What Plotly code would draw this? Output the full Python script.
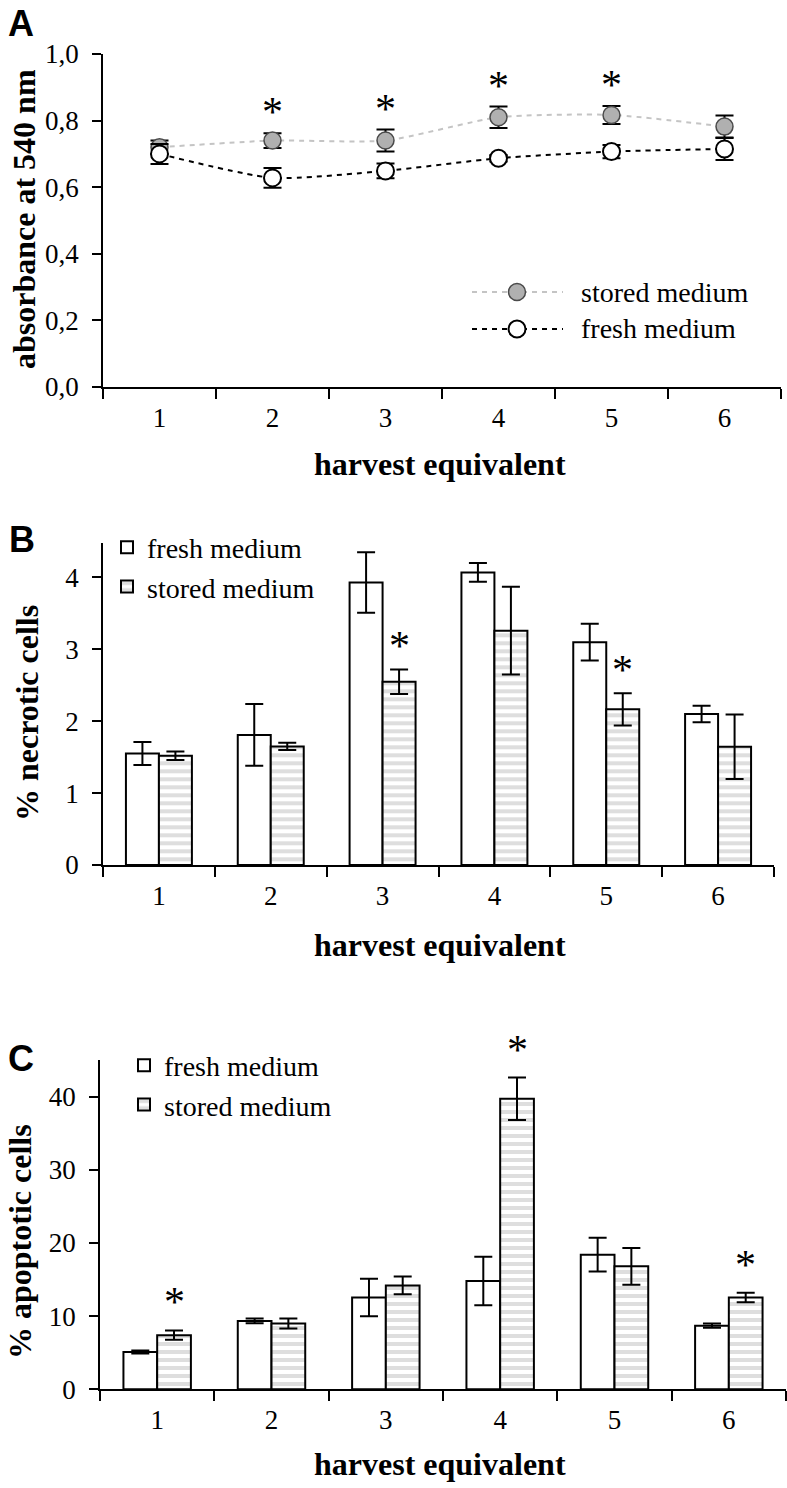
import plotly.graph_objects as go

# ---------------- data ----------------
categories = ["1", "2", "3", "4", "5", "6"]

# Panel A: absorbance at 540 nm
absorb_stored = [0.72, 0.74, 0.74, 0.81, 0.817, 0.782]
absorb_stored_err = [0.02, 0.022, 0.033, 0.032, 0.027, 0.033]
absorb_fresh = [0.70, 0.628, 0.649, 0.687, 0.707, 0.715]
absorb_fresh_err = [0.03, 0.03, 0.022, 0.01, 0.02, 0.033]
absorb_sig = [False, True, True, True, True, False]

# Panel B: % necrotic cells
necrotic_fresh = [1.55, 1.81, 3.93, 4.07, 3.10, 2.10]
necrotic_fresh_err = [0.16, 0.43, 0.42, 0.13, 0.255, 0.115]
necrotic_stored = [1.52, 1.65, 2.55, 3.26, 2.165, 1.645]
necrotic_stored_err = [0.06, 0.05, 0.17, 0.61, 0.225, 0.45]
necrotic_sig = [False, False, True, False, True, False]

# Panel C: % apoptotic cells
apoptotic_fresh = [5.1, 9.35, 12.55, 14.8, 18.4, 8.7]
apoptotic_fresh_err = [0.2, 0.33, 2.56, 3.3, 2.3, 0.3]
apoptotic_stored = [7.4, 9.0, 14.2, 39.7, 16.8, 12.55]
apoptotic_stored_err = [0.64, 0.68, 1.2, 2.9, 2.5, 0.64]
apoptotic_sig = [True, False, False, True, False, True]

# ---------------- layout helpers ----------------
W, H = 787, 1488
SERIF = "Liberation Serif"
SANS = "Liberation Sans"
BARGAP = 0.41


def px_x(p):
    return p / W


def px_y(p):
    return 1 - p / H


tick_font = dict(family=SERIF, size=27, color="black")


def xstyle(x0, x1, anchor):
    return dict(
        domain=[px_x(x0), px_x(x1)], anchor=anchor, type="category",
        categoryorder="array", categoryarray=categories, range=[-0.5, 5.5],
        showline=True, linecolor="black", linewidth=1.5, mirror=False,
        ticks="outside", ticklen=10, tickwidth=1.5, tickcolor="black",
        tickson="boundaries", showgrid=False, zeroline=False,
        tickfont=tick_font, ticklabelstandoff=6, fixedrange=True,
    )


def ystyle(top, bottom, anchor, rng, dtick, fmt):
    return dict(
        domain=[px_y(bottom), px_y(top)], anchor=anchor, range=rng,
        tick0=0, dtick=dtick, tickformat=fmt,
        showline=True, linecolor="black", linewidth=1.5,
        ticks="outside", ticklen=9, tickwidth=1.5, tickcolor="black",
        showgrid=False, zeroline=False, tickfont=tick_font,
        ticklabelstandoff=8, fixedrange=True,
    )


fig = go.Figure()

# ---------------- Panel A ----------------
fig.add_trace(go.Scatter(
    x=categories, y=absorb_stored, name="stored medium", mode="lines+markers",
    line=dict(color="#c4c4c4", width=2, dash="5px,5px", shape="spline", smoothing=0.6),
    marker=dict(size=17, color="#b0b0b0", line=dict(color="#4a4a4a", width=1.5)),
    error_y=dict(type="data", array=absorb_stored_err, color="black", thickness=2, width=9),
    xaxis="x", yaxis="y", showlegend=False,
))
fig.add_trace(go.Scatter(
    x=categories, y=absorb_fresh, name="fresh medium", mode="lines+markers",
    line=dict(color="black", width=2, dash="5px,5px", shape="spline", smoothing=0.6),
    marker=dict(size=17, color="white", line=dict(color="black", width=2)),
    error_y=dict(type="data", array=absorb_fresh_err, color="black", thickness=2, width=9),
    xaxis="x", yaxis="y", showlegend=False,
))

# ---------------- Panel B & C bars ----------------
fresh_marker = dict(color="white", line=dict(color="black", width=2))
stored_marker = dict(
    color="white", line=dict(color="black", width=2),
    pattern=dict(shape="-", fgcolor="#bdbdbd", bgcolor="white", size=8, solidity=0.5),
)
err_style = dict(type="data", color="black", thickness=2, width=9)

fig.add_trace(go.Bar(x=categories, y=necrotic_fresh, name="fresh medium", marker=fresh_marker,
                     error_y=dict(array=necrotic_fresh_err, **err_style),
                     xaxis="x2", yaxis="y2", legend="legend2"))
fig.add_trace(go.Bar(x=categories, y=necrotic_stored, name="stored medium", marker=stored_marker,
                     error_y=dict(array=necrotic_stored_err, **err_style),
                     xaxis="x2", yaxis="y2", legend="legend2"))
fig.add_trace(go.Bar(x=categories, y=apoptotic_fresh, name="fresh medium", marker=fresh_marker,
                     error_y=dict(array=apoptotic_fresh_err, **err_style),
                     xaxis="x3", yaxis="y3", legend="legend3"))
fig.add_trace(go.Bar(x=categories, y=apoptotic_stored, name="stored medium", marker=stored_marker,
                     error_y=dict(array=apoptotic_stored_err, **err_style),
                     xaxis="x3", yaxis="y3", legend="legend3"))

annotations = []
shapes = []

# significance asterisks
stored_offset = (1 - BARGAP) / 4


def add_stars(sig, vals, errs, xref, yref, xoff, shift):
    for i, s in enumerate(sig):
        if s:
            annotations.append(dict(
                x=i + xoff, y=vals[i] + errs[i], xref=xref, yref=yref, text="*",
                showarrow=False, xanchor="center", yanchor="middle", yshift=shift,
                font=dict(family=SERIF, size=42, color="black"),
            ))


add_stars(absorb_sig, absorb_stored, absorb_stored_err, "x", "y", 0, 21)
add_stars(necrotic_sig, necrotic_stored, necrotic_stored_err, "x2", "y2", stored_offset, 23)
add_stars(apoptotic_sig, apoptotic_stored, apoptotic_stored_err, "x3", "y3", stored_offset, 28)

# panel letters
for letter, cx, cy in [("A", 21, 24), ("B", 22, 539), ("C", 21, 1058)]:
    annotations.append(dict(x=px_x(cx), y=px_y(cy), xref="paper", yref="paper", text=letter,
                            showarrow=False, xanchor="center", yanchor="middle",
                            font=dict(family=SANS, size=36, color="black", weight="bold")))

# axis titles
title_font = dict(family=SERIF, size=32, color="black", weight="bold")
for cy in [464, 945, 1464]:
    annotations.append(dict(x=px_x(440), y=px_y(cy), xref="paper", yref="paper",
                            text="harvest equivalent", showarrow=False,
                            xanchor="center", yanchor="middle", font=title_font))
for txt, cx, cy in [("absorbance at 540 nm", 24, 219), ("% necrotic cells", 27, 713),
                    ("% apoptotic cells", 20, 1242)]:
    annotations.append(dict(x=px_x(cx), y=px_y(cy), xref="paper", yref="paper", text=txt,
                            textangle=-90, showarrow=False, xanchor="center", yanchor="middle",
                            font=title_font))

# legend for panel A (line - marker - line keys)
legend_font = dict(family=SERIF, size=28, color="black")
for name, cy, lcol, fill, edge, ew in [
    ("stored medium", 292, "#c4c4c4", "#b0b0b0", "#4a4a4a", 1.5),
    ("fresh medium", 329, "black", "white", "black", 2),
]:
    shapes.append(dict(type="line", xref="paper", yref="paper", x0=px_x(472), x1=px_x(563),
                       y0=px_y(cy), y1=px_y(cy), line=dict(color=lcol, width=2, dash="5px,5px")))
    shapes.append(dict(type="circle", xref="paper", yref="paper",
                       x0=px_x(517 - 8.5), x1=px_x(517 + 8.5), y0=px_y(cy + 8.5), y1=px_y(cy - 8.5),
                       fillcolor=fill, line=dict(color=edge, width=ew)))
    annotations.append(dict(x=px_x(579), y=px_y(cy), xref="paper", yref="paper", text=name,
                            showarrow=False, xanchor="left", yanchor="middle", font=legend_font))

legend_common = dict(font=legend_font, bgcolor="rgba(0,0,0,0)", borderwidth=0,
                     xanchor="left", yanchor="middle", orientation="v", itemclick=False,
                     itemdoubleclick=False, tracegroupgap=0)

fig.update_layout(
    width=W, height=H,
    margin=dict(l=0, r=0, t=0, b=0, autoexpand=False),
    paper_bgcolor="white", plot_bgcolor="white",
    separators=",.",
    barmode="group", bargap=BARGAP, bargroupgap=0,
    showlegend=True,
    xaxis=xstyle(103, 781, "y"),
    yaxis=ystyle(54, 387, "x", [0, 1.0], 0.2, ".1f"),
    xaxis2=xstyle(103, 774, "y2"),
    yaxis2=ystyle(543.3, 865, "x2", [0, 4.475], 1, "d"),
    xaxis3=xstyle(100, 786, "y3"),
    yaxis3=ystyle(1060, 1389.3, "x3", [0, 45], 10, "d"),
    legend2=dict(x=px_x(107), y=px_y(567), **legend_common),
    legend3=dict(x=px_x(124), y=px_y(1085), **legend_common),
    annotations=annotations,
    shapes=shapes,
)

fig.write_html("out.html", config={"displayModeBar": False},
               post_script="document.body.style.margin='0';")
